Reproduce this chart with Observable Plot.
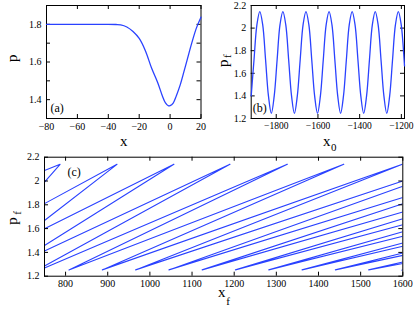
<!DOCTYPE html>
<html><head><meta charset="utf-8">
<script src="https://cdn.jsdelivr.net/npm/d3@7"></script>
<script src="https://cdn.jsdelivr.net/npm/@observablehq/plot@0.6"></script>
<style>
body{margin:0;background:#fff;}
#wrap{position:relative;width:415px;height:314px;overflow:hidden;background:#fff;}
#wrap svg{position:absolute;overflow:visible;}
</style></head><body><div id="wrap"></div>
<script>
// ---------- Panel (a): p vs x ----------
const aX = [-80,-60,-40,-35,-32,-28,-24,-20,-16,-12,-8,-5,-3,-1,0,2,4,6.6,9,11,14,17,20];
const aP = [1.8,1.8,1.8,1.799,1.797,1.786,1.762,1.725,1.66,1.568,1.49,1.42,1.383,1.367,1.368,1.382,1.42,1.48,1.55,1.61,1.70,1.78,1.838];
const aXTicks = [-80,-60,-40,-20,0,20];
const aYTicks = [1.4,1.5,1.6,1.7,1.8];
const aYLabels = [1.4,1.6,1.8];

// ---------- Panel (b): p_f vs x_0 ----------
const bX = [-1920,-1906.5,-1892.6,-1878.8,-1864.9,-1851.1,-1837.3,-1823.4,
  -1809.6,-1795.7,-1781.9,-1768.1,-1754.3,-1740.4,-1726.6,-1712.8,
  -1698.9,-1685.1,-1671.2,-1657.4,-1643.6,-1629.7,-1615.9,-1602.0,
  -1588.2,-1574.4,-1560.5,-1546.7,-1532.9,-1519.0,-1505.2,-1491.4,
  -1477.5,-1463.7,-1449.8,-1436.0,-1422.2,-1408.3,-1394.5,-1380.7,
  -1366.8,-1353.0,-1339.1,-1325.3,-1311.5,-1297.6,-1283.8,-1270.0,
  -1256.1,-1242.3,-1228.4,-1214.6,-1200.8,-1186.9,-1185];
const bP = [1.40,1.72,2.03,2.145,2.03,1.72,1.40,1.245,
  1.40,1.72,2.03,2.145,2.03,1.72,1.40,1.245,
  1.40,1.72,2.03,2.145,2.03,1.72,1.40,1.245,
  1.40,1.72,2.03,2.145,2.03,1.72,1.40,1.245,
  1.40,1.72,2.03,2.145,2.03,1.72,1.40,1.245,
  1.40,1.72,2.03,2.145,2.03,1.72,1.40,1.245,
  1.40,1.72,2.03,2.145,2.03,1.72,1.665];
const bXTicks = [-1800,-1600,-1400,-1200];
const bYTicks = [1.2,1.4,1.6,1.8,2.0,2.2];

// ---------- Panel (c): p_f vs x_f (visible pieces of the hairpin curve) ----------
const cSegA = [[750,2.088],[787,2.14],[750,1.99]];
const cSegB = [[750,1.81],[922,2.14],[750,1.668]];
const cSegC = [[750,1.598],[1057,2.14],[750,1.458]];
const cSegD = [[750,1.412],[1190,2.14],[750,1.286]];
const cSegE = [[750,1.269],[1326,2.14],[808,1.253],[1460,2.14],[887,1.253],[1599,2.14],[966,1.253],[1600,2.0]];
const cSegF = [[1600,1.955],[1045,1.253],[1600,1.861]];
const cSegG = [[1600,1.808],[1124,1.253],[1600,1.739]];
const cSegH = [[1600,1.682],[1203,1.253],[1600,1.632]];
const cSegI = [[1600,1.574],[1282,1.253],[1600,1.536]];
const cSegJ = [[1600,1.479],[1361,1.253],[1600,1.451]];
const cSegK = [[1600,1.395],[1440,1.253],[1600,1.375]];
const cSegL = [[1600,1.319],[1519,1.253],[1600,1.307]];
const cSegM = [[1600,1.256],[1598,1.25],[1600,1.252]];
const cXTicks = [800,900,1000,1100,1200,1300,1400,1500,1600];
const cYTicks = [1.2,1.4,1.6,1.8,2.0,2.2];

// ---------- helpers ----------
const serif = "'Liberation Serif','Times New Roman',serif";
const blue = "#2a42ff";
const fmtX = d => (d < 0 ? "\u2212" + Math.abs(d) : String(d));
const fmtY = d => String(+d.toFixed(1));
const TL = 4;

function frameTicks(xT, yT, iw, ih) {
  const tx = {x: d => d, stroke: "black", strokeWidth: 1};
  const ty = {y: d => d, stroke: "black", strokeWidth: 1};
  return [
    Plot.tickX(xT, {...tx, insetTop: ih - TL}),
    Plot.tickX(xT, {...tx, insetBottom: ih - TL}),
    Plot.tickY(yT, {...ty, insetRight: iw - TL}),
    Plot.tickY(yT, {...ty, insetLeft: iw - TL}),
    Plot.frame({stroke: "black", strokeWidth: 1})
  ];
}
function labels(xT, yT, fs) {
  return [
    Plot.axisX({ticks: xT, anchor: "bottom", tickSize: 0, tickPadding: 4, tickFormat: fmtX, label: null, fontSize: fs}),
    Plot.axisY({ticks: yT, anchor: "left", tickSize: 0, tickPadding: 5, tickFormat: fmtY, label: null, fontSize: 10})
  ];
}
const style = {fontFamily: serif, fontSize: "10px", background: "transparent", overflow: "visible", color: "black"};
const wrap = document.getElementById("wrap");
function place(svg, left, top) { svg.style.left = left + "px"; svg.style.top = top + "px"; wrap.appendChild(svg); }

// Panel (a)
const A = {w: 205, h: 150, ml: 46, mr: 4.5, mt: 5, mb: 32};
const aRows = aX.map((x, i) => ({x, p: aP[i]}));
const pa = Plot.plot({
  width: A.w, height: A.h, marginLeft: A.ml, marginRight: A.mr, marginTop: A.mt, marginBottom: A.mb,
  style,
  x: {domain: [-80, 20]}, y: {domain: [1.3, 1.9]},
  marks: [
    ...frameTicks(aXTicks, aYTicks, A.w - A.ml - A.mr, A.h - A.mt - A.mb),
    ...labels(aXTicks, aYLabels, 10),
    Plot.line(aRows, {x: "x", y: "p", stroke: blue, strokeWidth: 1.3, curve: "catmull-rom"}),
    Plot.text(["x"], {frameAnchor: "bottom", dy: 27, fontSize: 15, fontFamily: serif}),
    Plot.text(["p"], {frameAnchor: "left", dx: -34, rotate: -90, fontSize: 15, fontFamily: serif}),
    Plot.text(["(a)"], {frameAnchor: "bottom-left", dx: 4, dy: -7, textAnchor: "start", fontSize: 12, fontFamily: serif})
  ]
});
place(pa, 0, 0);

// Panel (b)
const B = {w: 210, h: 150, ml: 45.7, mr: 11, mt: 5, mb: 32};
const bRows = bX.map((x, i) => ({x, p: bP[i]}));
const pb = Plot.plot({
  width: B.w, height: B.h, marginLeft: B.ml, marginRight: B.mr, marginTop: B.mt, marginBottom: B.mb,
  style,
  x: {domain: [-1920, -1185]}, y: {domain: [1.2, 2.2]},
  marks: [
    ...frameTicks(bXTicks, bYTicks, B.w - B.ml - B.mr, B.h - B.mt - B.mb),
    ...labels(bXTicks, bYTicks, 9.5),
    Plot.line(bRows, {x: "x", y: "p", stroke: blue, strokeWidth: 1.3, curve: "catmull-rom"}),
    Plot.text(["x"], {frameAnchor: "bottom", dx: -1, dy: 27, fontSize: 15, fontFamily: serif}),
    Plot.text(["0"], {frameAnchor: "bottom", dx: 6, dy: 32, fontSize: 11, fontFamily: serif}),
    Plot.text(["p"], {frameAnchor: "left", dx: -28, dy: 5, rotate: -90, fontSize: 15, fontFamily: serif}),
    Plot.text(["f"], {frameAnchor: "left", dx: -24, dy: -4, rotate: -90, fontSize: 11, fontFamily: serif}),
    Plot.text(["(b)"], {frameAnchor: "bottom-left", dx: 1.5, dy: -7, textAnchor: "start", fontSize: 12, fontFamily: serif})
  ]
});
place(pb, 205, 0);

// Panel (c)
const C = {w: 415, h: 174, ml: 44, mr: 12.7, mt: 16.7, mb: 38.3};
const cSegs = [cSegA,cSegB,cSegC,cSegD,cSegE,cSegF,cSegG,cSegH,cSegI,cSegJ,cSegK,cSegL,cSegM];
const cRows = cSegs.flatMap((seg, k) => seg.map(([x, p]) => ({x, p, k})));
const pc = Plot.plot({
  width: C.w, height: C.h, marginLeft: C.ml, marginRight: C.mr, marginTop: C.mt, marginBottom: C.mb,
  style,
  x: {domain: [750, 1600]}, y: {domain: [1.2, 2.2]},
  marks: [
    Plot.line(cRows, {x: "x", y: "p", z: "k", stroke: blue, strokeWidth: 1.1, curve: "linear", strokeLinejoin: "round", clip: true}),
    ...frameTicks(cXTicks, cYTicks, C.w - C.ml - C.mr, C.h - C.mt - C.mb),
    ...labels(cXTicks, cYTicks, 10),
    Plot.text(["x"], {frameAnchor: "bottom", dx: -2, dy: 21, fontSize: 15, fontFamily: serif}),
    Plot.text(["f"], {frameAnchor: "bottom", dx: 4.5, dy: 29, fontSize: 11, fontFamily: serif}),
    Plot.text(["p"], {frameAnchor: "left", dx: -32, dy: 8, rotate: -90, fontSize: 15, fontFamily: serif}),
    Plot.text(["f"], {frameAnchor: "left", dx: -27, dy: -2, rotate: -90, fontSize: 11, fontFamily: serif}),
    Plot.text(["(c)"], {frameAnchor: "top-left", dx: 23, dy: 10, textAnchor: "start", fontSize: 12, fontFamily: serif})
  ]
});
place(pc, 0, 140);
</script></body></html>
